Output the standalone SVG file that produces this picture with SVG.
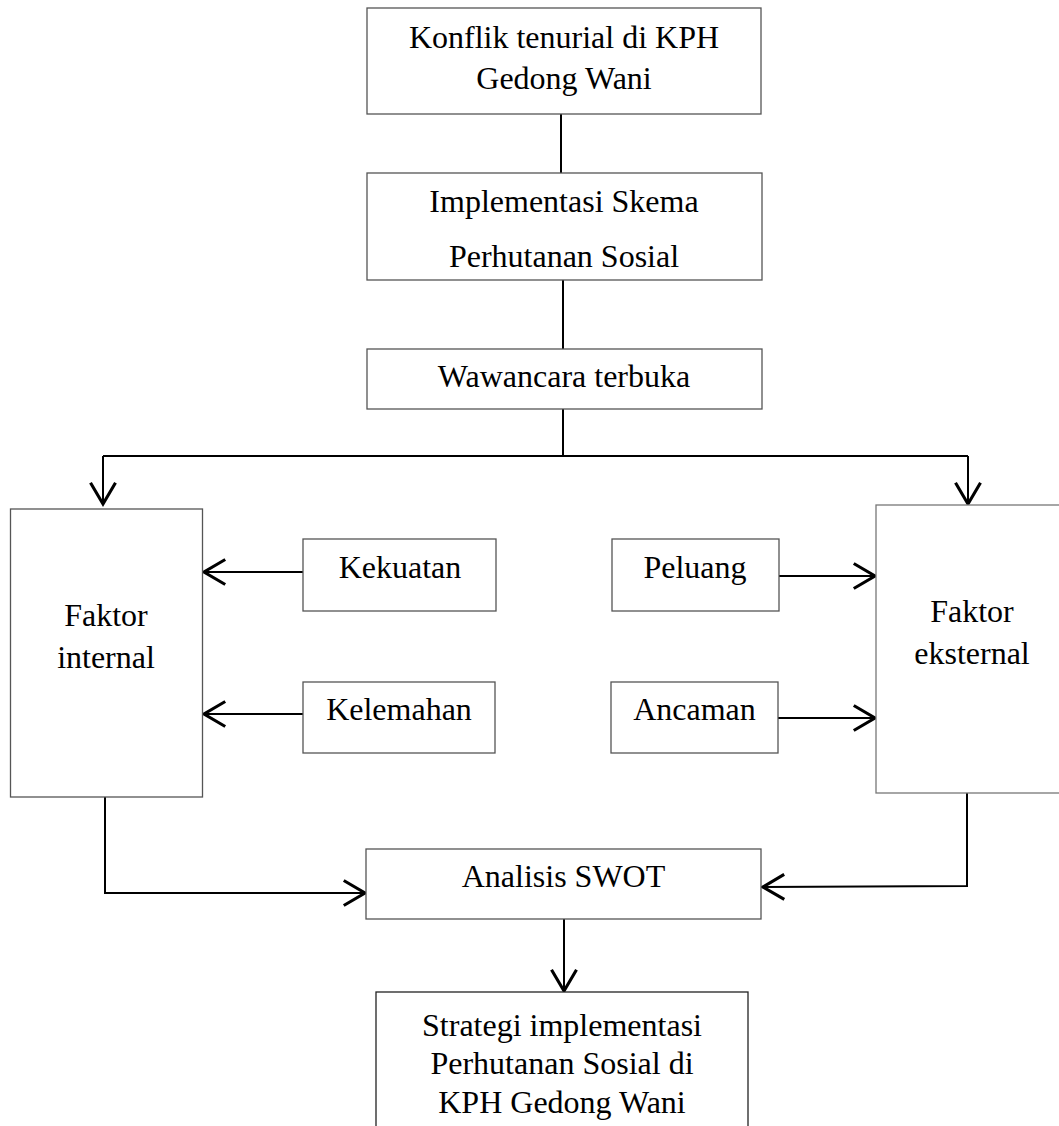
<svg xmlns="http://www.w3.org/2000/svg" width="1059" height="1126" viewBox="0 0 1059 1126">
<style>
.box{fill:#fff;stroke:#555;stroke-width:1.3}
.t{font-family:"Liberation Serif","Times New Roman",serif;font-size:32px;fill:#000;text-anchor:middle}
.c{fill:none;stroke:#000;stroke-width:2}
</style>
<defs>
<marker id="ah" markerUnits="userSpaceOnUse" markerWidth="30" markerHeight="30" viewBox="-20 -12 22 24" refX="0" refY="0" orient="auto">
<path d="M-17,-10 L0,0 L-17,10" fill="none" stroke="#000" stroke-width="2.5"/>
</marker>
</defs>
<rect width="1059" height="1126" fill="#fff"/>
<g id="connectors">
<line class="c" x1="561" y1="114" x2="561" y2="173"/>
<line class="c" x1="563" y1="280" x2="563" y2="349"/>
<line class="c" x1="563" y1="409" x2="563" y2="456"/>
<polyline class="c" points="103,456 968,456"/>
<line class="c" x1="103" y1="456" x2="103" y2="504" marker-end="url(#ah)"/>
<line class="c" x1="968" y1="456" x2="968" y2="504" marker-end="url(#ah)"/>
<line class="c" x1="303" y1="572" x2="204" y2="572" marker-end="url(#ah)"/>
<line class="c" x1="303" y1="714" x2="204" y2="714" marker-end="url(#ah)"/>
<line class="c" x1="779" y1="576" x2="875" y2="576" marker-end="url(#ah)"/>
<line class="c" x1="778" y1="718" x2="875" y2="718" marker-end="url(#ah)"/>
<polyline class="c" points="105,797 105,893 365,893" marker-end="url(#ah)"/>
<polyline class="c" points="967,793 967,886 763,887" marker-end="url(#ah)"/>
<line class="c" x1="564" y1="919" x2="564" y2="991" marker-end="url(#ah)"/>
</g>
<g id="n1"><rect class="box" x="367" y="8" width="394" height="106"/>
<text class="t" x="564" y="48">Konflik tenurial di KPH</text>
<text class="t" x="564" y="89">Gedong Wani</text></g>
<g id="n2"><rect class="box" x="367" y="173" width="395" height="107"/>
<text class="t" x="564" y="212">Implementasi Skema</text>
<text class="t" x="564" y="267">Perhutanan Sosial</text></g>
<g id="n3"><rect class="box" x="367" y="349" width="395" height="60"/>
<text class="t" x="564" y="387">Wawancara terbuka</text></g>
<g id="n4"><rect class="box" x="10.5" y="509" width="192" height="288"/>
<text class="t" x="106" y="626">Faktor</text>
<text class="t" x="106" y="668">internal</text></g>
<g id="n5"><rect class="box" x="303" y="539" width="193" height="72"/>
<text class="t" x="400" y="578">Kekuatan</text></g>
<g id="n6"><rect class="box" x="303" y="682" width="192" height="71"/>
<text class="t" x="399" y="720">Kelemahan</text></g>
<g id="n7"><rect class="box" x="612" y="539" width="167" height="72"/>
<text class="t" x="695" y="578">Peluang</text></g>
<g id="n8"><rect class="box" x="611" y="682" width="167" height="71"/>
<text class="t" x="694.5" y="720">Ancaman</text></g>
<g id="n9"><rect class="box" x="876" y="505" width="200" height="288" style="stroke:#777"/>
<text class="t" x="972" y="622">Faktor</text>
<text class="t" x="972" y="664">eksternal</text></g>
<g id="n10"><rect class="box" x="366" y="849" width="395" height="70"/>
<text class="t" x="563.5" y="887">Analisis SWOT</text></g>
<g id="n11"><rect class="box" x="376" y="992" width="372" height="200" style="stroke:#222"/>
<text class="t" x="562" y="1036">Strategi implementasi</text>
<text class="t" x="562" y="1074">Perhutanan Sosial di</text>
<text class="t" x="562" y="1113">KPH Gedong Wani</text></g>
</svg>
